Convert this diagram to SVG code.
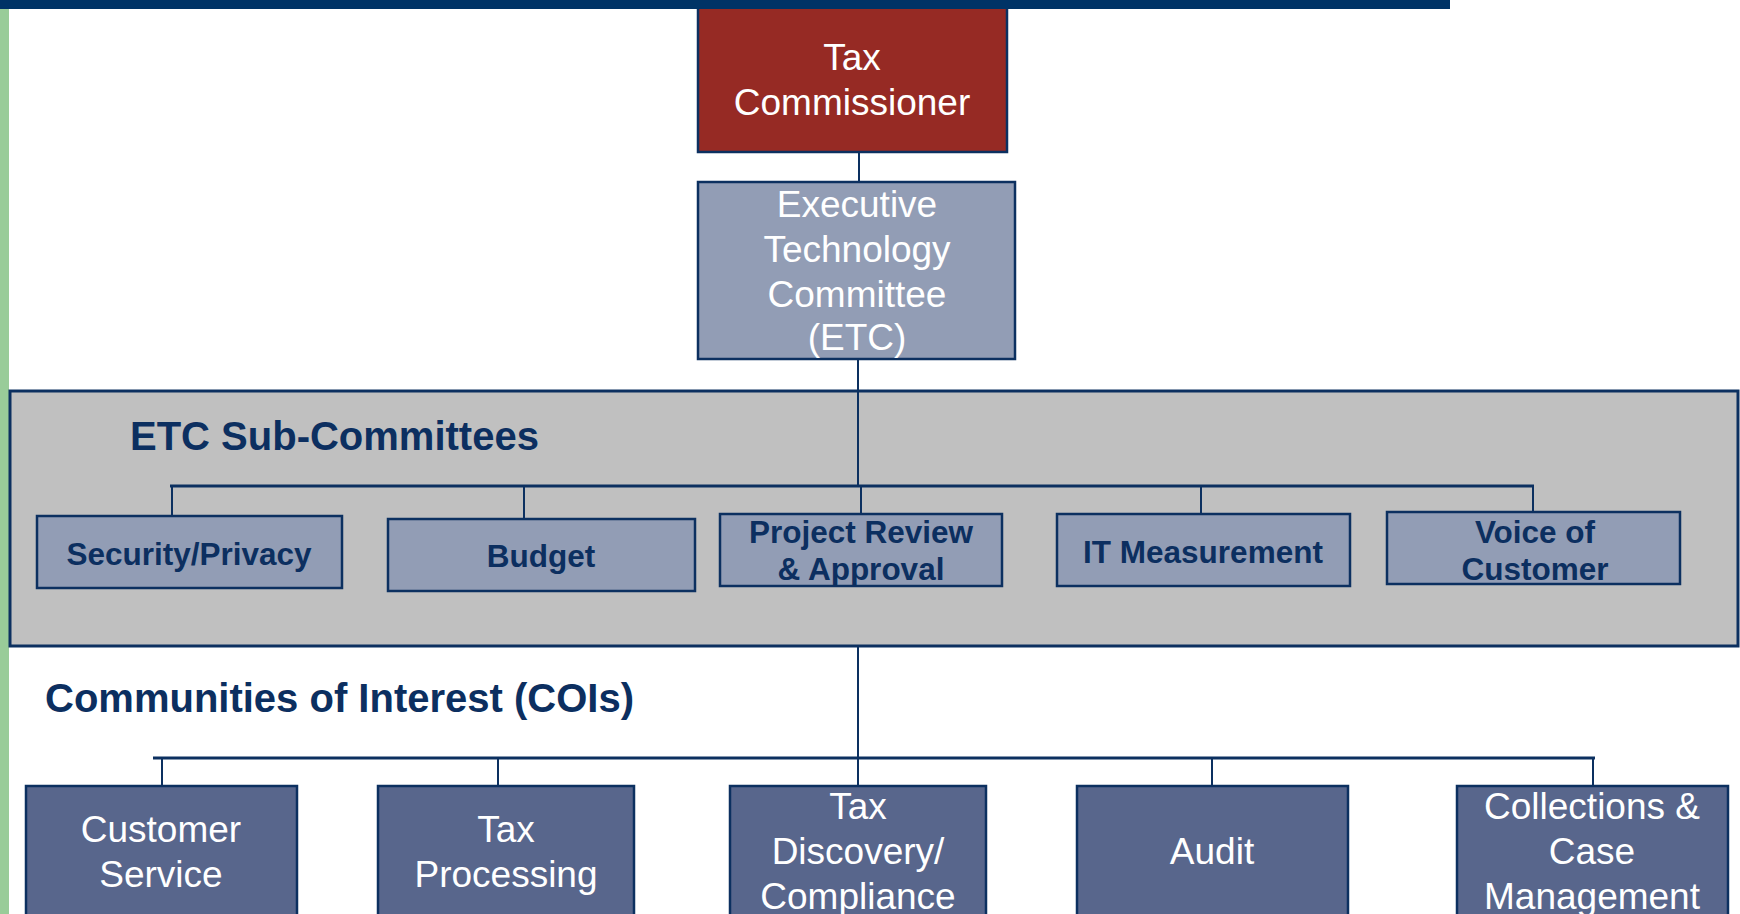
<svg xmlns="http://www.w3.org/2000/svg" width="1740" height="914" viewBox="0 0 1740 914">
<style>
.w{font-family:"Liberation Sans",Arial,sans-serif;fill:#fff;text-anchor:middle;font-size:37px}
.b{font-family:"Liberation Sans",Arial,sans-serif;fill:#0c2f60;font-weight:bold;text-anchor:middle;font-size:31.5px}
.h{font-family:"Liberation Sans",Arial,sans-serif;fill:#0c2f60;font-weight:bold;font-size:40px}
.ln{stroke:#0c3060;stroke-width:2;fill:none}
.bar{stroke:#0c3060;stroke-width:3;fill:none}
.sub{fill:#929db5;stroke:#0c3060;stroke-width:2.5}
.coi{fill:#58668c;stroke:#0c3060;stroke-width:2.5}
</style>
<rect x="0" y="0" width="1740" height="914" fill="#fff"/>
<rect x="0" y="9" width="9" height="905" fill="#99cc99"/>
<g id="subpanel">
<rect x="10" y="391" width="1728" height="255" fill="#c0c0c0" stroke="#0c3060" stroke-width="3"/>
<text class="h" x="130" y="450">ETC Sub-Committees</text>
</g>
<text class="h" x="45" y="712">Communities of Interest (COIs)</text>
<g id="connectors">
<line class="ln" x1="859" y1="152" x2="859" y2="182"/>
<line class="ln" x1="858" y1="359" x2="858" y2="486"/>
<line class="bar" x1="170" y1="486" x2="1534" y2="486"/>
<line class="ln" x1="172" y1="486" x2="172" y2="516"/>
<line class="ln" x1="524" y1="487" x2="524" y2="519"/>
<line class="ln" x1="861" y1="486" x2="861" y2="514"/>
<line class="ln" x1="1201" y1="486" x2="1201" y2="514"/>
<line class="ln" x1="1533" y1="486" x2="1533" y2="512"/>
<line class="ln" x1="858" y1="646" x2="858" y2="758"/>
<line class="bar" x1="153" y1="758" x2="1595" y2="758"/>
<line class="ln" x1="162" y1="758" x2="162" y2="786"/>
<line class="ln" x1="498" y1="758" x2="498" y2="786"/>
<line class="ln" x1="858" y1="758" x2="858" y2="786"/>
<line class="ln" x1="1212" y1="758" x2="1212" y2="786"/>
<line class="ln" x1="1593" y1="758" x2="1593" y2="786"/>
</g>
<g id="tax-commissioner">
<rect x="698" y="5" width="309" height="147" fill="#962a24" stroke="#0c3060" stroke-width="2.5"/>
<text class="w" x="852" y="70">Tax</text>
<text class="w" x="852" y="115">Commissioner</text>
</g>
<rect x="0" y="0" width="1450" height="9" fill="#003366"/>
<g id="etc">
<rect x="698" y="182" width="317" height="177" fill="#929db5" stroke="#0c3060" stroke-width="2.5"/>
<text class="w" x="857" y="217">Executive</text>
<text class="w" x="857" y="262">Technology</text>
<text class="w" x="857" y="307">Committee</text>
<text class="w" x="857" y="350">(ETC)</text>
</g>
<g id="security-privacy">
<rect class="sub" x="37" y="516" width="305" height="72"/>
<text class="b" x="189" y="565">Security/Privacy</text>
</g>
<g id="budget">
<rect class="sub" x="388" y="519" width="307" height="72"/>
<text class="b" x="541" y="567">Budget</text>
</g>
<g id="project-review">
<rect class="sub" x="720" y="514" width="282" height="72"/>
<text class="b" x="861" y="543">Project Review</text>
<text class="b" x="861" y="580">&amp; Approval</text>
</g>
<g id="it-measurement">
<rect class="sub" x="1057" y="514" width="293" height="72"/>
<text class="b" x="1203" y="563">IT Measurement</text>
</g>
<g id="voice-of-customer">
<rect class="sub" x="1387" y="512" width="293" height="72"/>
<text class="b" x="1535" y="543">Voice of</text>
<text class="b" x="1535" y="580">Customer</text>
</g>
<g id="customer-service">
<rect class="coi" x="26" y="786" width="271" height="140"/>
<text class="w" x="161" y="842">Customer</text>
<text class="w" x="161" y="887">Service</text>
</g>
<g id="tax-processing">
<rect class="coi" x="378" y="786" width="256" height="140"/>
<text class="w" x="506" y="842">Tax</text>
<text class="w" x="506" y="887">Processing</text>
</g>
<g id="tax-discovery">
<rect class="coi" x="730" y="786" width="256" height="140"/>
<text class="w" x="858" y="819">Tax</text>
<text class="w" x="858" y="864">Discovery/</text>
<text class="w" x="858" y="909">Compliance</text>
</g>
<g id="audit">
<rect class="coi" x="1077" y="786" width="271" height="140"/>
<text class="w" x="1212" y="864">Audit</text>
</g>
<g id="collections">
<rect class="coi" x="1457" y="786" width="271" height="140"/>
<text class="w" x="1592" y="819">Collections &amp;</text>
<text class="w" x="1592" y="864">Case</text>
<text class="w" x="1592" y="909">Management</text>
</g>
</svg>
